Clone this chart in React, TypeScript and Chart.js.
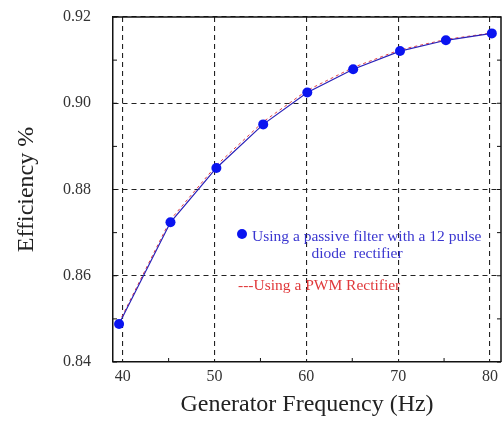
import React, { useEffect, useRef } from "react";
import { Chart, registerables } from "chart.js";

Chart.register(...registerables);

// Generator frequency (Hz) at each measured point
const frequencies = [39.6, 45.2, 50.2, 55.3, 60.1, 65.1, 70.2, 75.2, 80.2];
// Efficiency using a passive filter with a 12 pulse diode rectifier
const passiveEfficiency = [0.8488, 0.8724, 0.885, 0.8951, 0.9025, 0.9079, 0.9121, 0.9146, 0.9162];
// Efficiency using a PWM rectifier
const pwmEfficiency = [0.8492, 0.873, 0.8856, 0.8957, 0.903, 0.9083, 0.9124, 0.9148, 0.9163];

const xTicks = [40, 50, 60, 70, 80];
const yTicks = [0.84, 0.86, 0.88, 0.9, 0.92];
const xMinorTicks = [45, 55, 65, 75];
const yMinorTicks = [0.85, 0.87, 0.89, 0.91];

const legendLine1 = "Using a passive filter with a 12 pulse";
const legendLine2 = "diode  rectifier";
const legendLine3 = "---Using a PWM Rectifier";

const xTitle = "Generator Frequency (Hz)";
const yTitle = "Efficiency %";

const SERIF = "'Liberation Serif', 'Times New Roman', serif";

const framePlugin = {
  id: "frameAndLegend",
  afterDraw(chart: any) {
    const { ctx, chartArea } = chart;
    const { left, right, top, bottom } = chartArea;
    const xs = chart.scales.x;
    const ys = chart.scales.y;
    ctx.save();
    ctx.strokeStyle = "#111";
    ctx.lineWidth = 1.5;
    ctx.setLineDash([]);
    ctx.beginPath();
    ctx.moveTo(left, top);
    ctx.lineTo(right, top);
    ctx.lineTo(right, bottom);
    ctx.stroke();

    // minor ticks
    ctx.lineWidth = 1;
    ctx.beginPath();
    xMinorTicks.forEach((v) => {
      const px = xs.getPixelForValue(v);
      ctx.moveTo(px, bottom);
      ctx.lineTo(px, bottom - 4);
    });
    [...yMinorTicks, ...yTicks].forEach((v) => {
      const py = ys.getPixelForValue(v);
      ctx.moveTo(left, py);
      ctx.lineTo(left + 4, py);
      ctx.moveTo(right, py);
      ctx.lineTo(right - 4, py);
    });
    ctx.stroke();

    // legend
    const lx = left + 129;
    const ly = top + 217;
    ctx.fillStyle = "#0a14f0";
    ctx.beginPath();
    ctx.arc(lx, ly, 5, 0, Math.PI * 2);
    ctx.fill();
    ctx.font = `15.5px ${SERIF}`;
    ctx.textBaseline = "alphabetic";
    ctx.fillStyle = "#3a36d0";
    ctx.textAlign = "left";
    ctx.fillText(legendLine1, lx + 10, ly + 7);
    ctx.textAlign = "center";
    ctx.fillText(legendLine2, lx + 115, ly + 24);
    ctx.textAlign = "left";
    ctx.fillStyle = "#e0383a";
    ctx.fillText(legendLine3, lx - 4, ly + 56);
    ctx.restore();
  },
};

export default function App() {
  const canvasRef = useRef<HTMLCanvasElement | null>(null);

  useEffect(() => {
    document.body.style.margin = "0";
    const canvas = canvasRef.current;
    if (!canvas) return;
    const chart = new Chart(canvas, {
      type: "line",
      data: {
        datasets: [
          {
            label: legendLine1,
            data: frequencies.map((x, i) => ({ x, y: passiveEfficiency[i] })),
            borderColor: "#2a20b8",
            borderWidth: 1.2,
            backgroundColor: "#0a14f0",
            pointBackgroundColor: "#0a14f0",
            pointBorderColor: "#0a14f0",
            pointRadius: 5,
            pointBorderWidth: 0,
            tension: 0,
          },
          {
            label: legendLine3,
            data: frequencies.map((x, i) => ({ x, y: pwmEfficiency[i] })),
            borderColor: "#e04048",
            borderWidth: 1,
            borderDash: [3, 3],
            pointRadius: 0,
            tension: 0,
          },
        ],
      },
      options: {
        animation: false,
        responsive: false,
        devicePixelRatio: 1,
        layout: { padding: { top: 17, right: 1, left: 0, bottom: 0 } },
        plugins: {
          legend: { display: false },
          tooltip: { enabled: false },
        },
        scales: {
          x: {
            type: "linear",
            min: 38.94,
            max: 81.2,
            afterBuildTicks: (s: any) => {
              s.ticks = xTicks.map((v) => ({ value: v }));
            },
            afterFit: (s: any) => {
              s.height = 61;
              s.paddingLeft = 0;
              s.paddingRight = 0;
            },
            grid: {
              color: "#222",
              lineWidth: 1.1,
              drawTicks: false,
            },
            border: { display: true, color: "#111", width: 1.5, dash: [5, 4] },
            ticks: {
              padding: 5,
              color: "#333",
              font: { family: SERIF, size: 16 },
              maxRotation: 0,
              callback: (v: any) => String(v),
            },
            title: {
              display: true,
              text: xTitle,
              color: "#222",
              font: { family: SERIF, size: 24 },
              padding: { top: 0, bottom: 4 },
            },
          },
          y: {
            type: "linear",
            min: 0.84,
            max: 0.92,
            afterBuildTicks: (s: any) => {
              s.ticks = yTicks.map((v) => ({ value: v }));
            },
            afterFit: (s: any) => {
              s.width = 113;
              s.paddingTop = 0;
              s.paddingBottom = 0;
            },
            grid: {
              color: "#222",
              lineWidth: 1.1,
              drawTicks: false,
            },
            border: { display: true, color: "#111", width: 1.5, dash: [5, 4] },
            ticks: {
              padding: 22,
              color: "#333",
              font: { family: SERIF, size: 16 },
              callback: (v: any) => Number(v).toFixed(2),
            },
            title: {
              display: true,
              text: yTitle,
              color: "#222",
              font: { family: SERIF, size: 24 },
              padding: { top: 12, bottom: 0 },
            },
          },
        },
      },
      plugins: [framePlugin],
    });
    return () => chart.destroy();
  }, []);

  return (
    <div style={{ width: 502, height: 423, overflow: "hidden" }}>
      <canvas ref={canvasRef} width={506} height={423} style={{ display: "block" }} />
    </div>
  );
}
